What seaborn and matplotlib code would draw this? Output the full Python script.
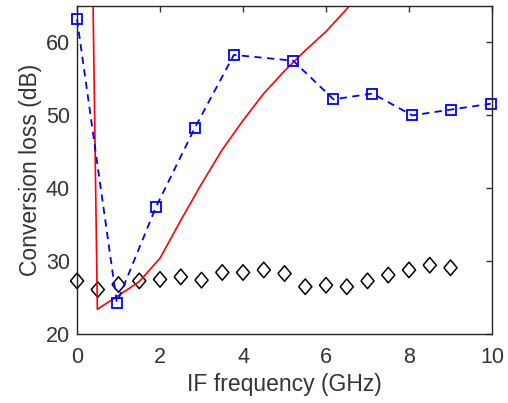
import numpy as np
import pandas as pd
import matplotlib
matplotlib.use("Agg")
import matplotlib.pyplot as plt
import seaborn as sns

# simulated conversion loss (red solid line)
sim_freq = [0.385, 0.49, 1.0, 1.5, 2.0, 2.5, 3.0, 3.5, 4.0, 4.5, 5.0, 5.5, 6.0, 6.5, 7.0]
sim_loss = [66.0, 23.4, 25.3, 27.2, 30.4, 35.6, 40.6, 45.3, 49.3, 53.0, 56.1, 58.9, 61.5, 64.6, 68.0]

# measured conversion loss (blue squares, dashed)
meas_freq = [0.0, 0.96, 1.9, 2.84, 3.78, 5.21, 6.18, 7.12, 8.08, 9.01, 9.97]
meas_loss = [63.2, 24.3, 37.4, 48.3, 58.3, 57.5, 52.2, 53.0, 50.0, 50.8, 51.6]

# reference device (black diamonds)
ref_freq = [0.0, 0.5, 1.0, 1.5, 2.0, 2.5, 3.0, 3.5, 4.0, 4.5, 5.0, 5.5, 6.0, 6.5, 7.0, 7.5, 8.0, 8.5, 9.0]
ref_loss = [27.3, 26.1, 26.8, 27.3, 27.5, 27.85, 27.4, 28.45, 28.45, 28.8, 28.3, 26.5, 26.7, 26.5, 27.3,
            28.1, 28.8, 29.45, 29.1]

sns.set_style("white")
plt.rcParams['font.family'] = ['Liberation Sans', 'DejaVu Sans']

sim = pd.DataFrame({"f": sim_freq, "loss": sim_loss})
meas = pd.DataFrame({"f": meas_freq, "loss": meas_loss})
ref = pd.DataFrame({"f": ref_freq, "loss": ref_loss})

fig = plt.figure(figsize=(5.08, 4.03), dpi=100)
ax = fig.add_axes([0.1516, 0.171, 0.8169, 0.814])

sns.lineplot(data=sim, x="f", y="loss", sort=False, color="#ff0000", linewidth=1.2, ax=ax)
sns.lineplot(data=meas, x="f", y="loss", sort=False, color="#0000ff", linewidth=1.3,
             dashes=False, marker="s", markersize=7.5, markerfacecolor="none",
             markeredgecolor="#0000ff", markeredgewidth=1.3, clip_on=False, ax=ax)
ax.lines[-1].set_dashes([4, 3])
diamond = [(-0.85, 0), (0, 1), (0.85, 0), (0, -1), (-0.85, 0)]
sns.scatterplot(data=ref, x="f", y="loss", marker=diamond, s=125, facecolor="none",
                edgecolor="black", linewidth=1.1, clip_on=False, ax=ax)

ax.set_xlim(0, 10)
ax.set_ylim(20, 65)
ax.set_xticks([0, 2, 4, 6, 8, 10])
ax.set_yticks([20, 30, 40, 50, 60])
ax.set_xlabel("IF frequency (GHz)", fontsize=16.5, color="#333333", labelpad=4)
ax.set_ylabel("Conversion loss (dB)", fontsize=16.5, color="#333333", labelpad=3)
ax.tick_params(direction="in", length=4, width=1, top=True, right=True,
               labelsize=15.5, colors="#333333")
ax.tick_params(axis="x", pad=9)
ax.tick_params(axis="y", pad=5)
for s in ax.spines.values():
    s.set_color("#262626")
    s.set_linewidth(1.0)

fig.savefig("out.png", dpi=100)
